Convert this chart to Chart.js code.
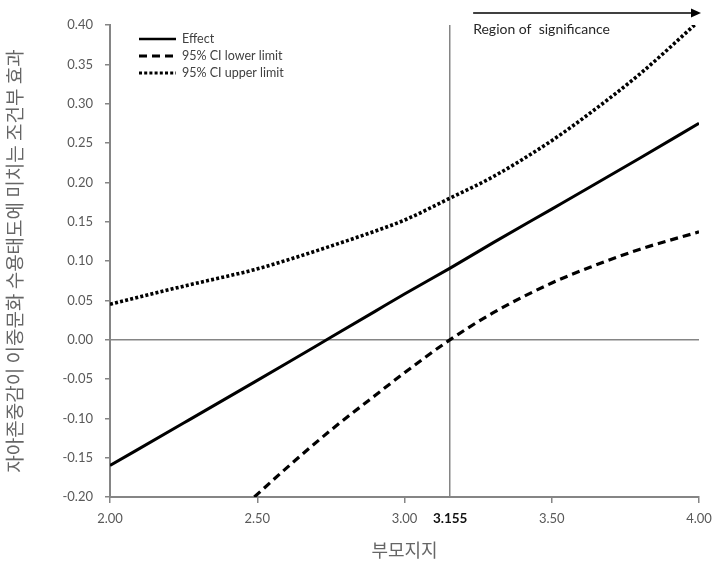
<!DOCTYPE html>
<html lang="ko">
<head>
<meta charset="utf-8">
<title>Johnson-Neyman plot</title>
<script src="https://cdn.jsdelivr.net/npm/chart.js@4.4.1/dist/chart.umd.min.js"></script>
<style>
  html, body { margin: 0; padding: 0; background: #fff; }
  #wrap { width: 712px; height: 566px; position: relative; }
</style>
</head>
<body>
<div id="wrap"><canvas id="chart"></canvas></div>
<script>
/* ---- Daten ---- */
const xValues  = [2.00, 2.25, 2.49, 2.60, 2.75, 2.90, 3.00, 3.155, 3.30, 3.50, 3.63, 3.80, 4.00];
const effect   = [-0.160, -0.106, -0.054, -0.030, 0.003, 0.036, 0.058, 0.091, 0.123, 0.166, 0.194, 0.231, 0.275];
const ciLower  = [null, null, -0.200, -0.163, -0.115, -0.071, -0.042, 0.000, 0.034, 0.072, 0.092, 0.115, 0.137];
const ciUpper  = [0.045, 0.068, 0.089, 0.101, 0.119, 0.138, 0.152, 0.180, 0.207, 0.253, 0.288, 0.338, 0.405];
const xTicks   = [2.00, 2.50, 3.00, 3.155, 3.50, 4.00];
const yTicks   = [-0.20, -0.15, -0.10, -0.05, 0.00, 0.05, 0.10, 0.15, 0.20, 0.25, 0.30, 0.35, 0.40];
const jnPoint  = 3.155;
const seriesNames = ['Effect', '95% CI lower limit', '95% CI upper limit'];

const AXIS = '#858585';
const TXT = '#595959';
const FONT = "Lato, 'Open Sans', sans-serif";

const toPts = ys => xValues.map((x, i) => ({ x: x, y: ys[i] }));
const isJN = c => !!(c && c.tick && c.tick.value === jnPoint);
const isZero = c => !!(c && c.tick && Math.abs(c.tick.value) < 1e-9);

/* ---- Legende + Pfeil (im Diagramm) ---- */
const overlay = {
  id: 'overlay',
  afterDraw(chart) {
    const ctx = chart.ctx;
    const ds = chart.data.datasets;
    ctx.save();
    // Legende oben links
    ds.forEach((d, i) => {
      const y = 39 + i * 17;
      ctx.beginPath();
      ctx.setLineDash(d.borderDash || []);
      ctx.lineWidth = i === 0 ? 2.5 : 3;
      ctx.strokeStyle = '#000';
      ctx.moveTo(139, y);
      ctx.lineTo(176, y);
      ctx.stroke();
      ctx.setLineDash([]);
      ctx.fillStyle = '#404040';
      ctx.font = '12.5px ' + FONT;
      ctx.textBaseline = 'middle';
      ctx.textAlign = 'left';
      ctx.fillText(d.label, 182, y);
    });
    // Region of significance
    const xs = chart.scales.x;
    const x0 = xs.getPixelForValue(jnPoint) + 23;
    const x1 = chart.chartArea.right + 2;
    const ay = 13;
    ctx.strokeStyle = '#000';
    ctx.lineWidth = 1.5;
    ctx.beginPath();
    ctx.moveTo(x0, ay);
    ctx.lineTo(x1 - 8, ay);
    ctx.stroke();
    ctx.fillStyle = '#000';
    ctx.beginPath();
    ctx.moveTo(x1, ay);
    ctx.lineTo(x1 - 10, ay - 4.5);
    ctx.lineTo(x1 - 10, ay + 4.5);
    ctx.closePath();
    ctx.fill();
    ctx.fillStyle = '#262626';
    ctx.font = '14px ' + FONT;
    ctx.textBaseline = 'middle';
    ctx.fillText('Region of  significance', x0, 29);
    ctx.restore();
  }
};

new Chart(document.getElementById('chart'), {
  type: 'line',
  data: {
    datasets: [
      { label: seriesNames[0], data: toPts(effect), borderColor: '#000', borderWidth: 3 },
      { label: seriesNames[1], data: toPts(ciLower), borderColor: '#000', borderWidth: 3.2, borderDash: [8, 5] },
      { label: seriesNames[2], data: toPts(ciUpper), borderColor: '#000', borderWidth: 3.6, borderDash: [3, 2.2] }
    ]
  },
  options: {
    responsive: true,
    maintainAspectRatio: false,
    animation: false,
    layout: { padding: { top: 25, right: 13, left: 0, bottom: 0 } },
    elements: {
      point: { radius: 0 },
      line: { cubicInterpolationMode: 'monotone', fill: false, borderCapStyle: 'butt' }
    },
    plugins: { legend: { display: false }, tooltip: { enabled: false } },
    scales: {
      x: {
        type: 'linear',
        min: 2, max: 4,
        afterBuildTicks: s => { s.ticks = xTicks.map(v => ({ value: v })); },
        afterFit: s => { s.height = 69; s.paddingLeft = 0; s.paddingRight = 0; },
        border: { color: AXIS, width: 2 },
        grid: {
          drawOnChartArea: true,
          color: c => isJN(c) ? AXIS : 'rgba(0,0,0,0)',
          lineWidth: 1.5,
          tickLength: 6,
          tickColor: c => isJN(c) ? 'rgba(0,0,0,0)' : AXIS
        },
        ticks: {
          autoSkip: false,
          maxRotation: 0,
          padding: 8,
          color: c => isJN(c) ? '#111' : TXT,
          font: c => isJN(c)
            ? { family: FONT, size: 13.5, weight: 'bold' }
            : { family: FONT, size: 13 },
          callback: v => v === jnPoint ? '3.155' : v.toFixed(2)
        },
        title: {
          display: true,
          text: '부모지지',
          color: '#666',
          font: { family: "'Noto Sans CJK KR', sans-serif", size: 18 },
          padding: { top: 0, bottom: 5 }
        }
      },
      y: {
        min: -0.2, max: 0.4,
        afterBuildTicks: s => { s.ticks = yTicks.map(v => ({ value: v })); },
        afterFit: s => { s.width = 110; },
        border: { color: AXIS, width: 2 },
        grid: {
          drawOnChartArea: true,
          color: c => isZero(c) ? AXIS : 'rgba(0,0,0,0)',
          lineWidth: 1.5,
          tickLength: 5,
          tickColor: AXIS
        },
        ticks: {
          padding: 12,
          color: TXT,
          font: { family: FONT, size: 13 },
          callback: v => (Math.abs(v) < 1e-9 ? 0 : v).toFixed(2)
        },
        title: {
          display: true,
          text: '자아존중감이 이중문화 수용태도에 미치는 조건부 효과',
          color: '#666',
          font: { family: "'Noto Sans CJK KR', sans-serif", size: 19 },
          padding: { top: 3, bottom: 0 }
        }
      }
    }
  },
  plugins: [overlay]
});
</script>
</body>
</html>
